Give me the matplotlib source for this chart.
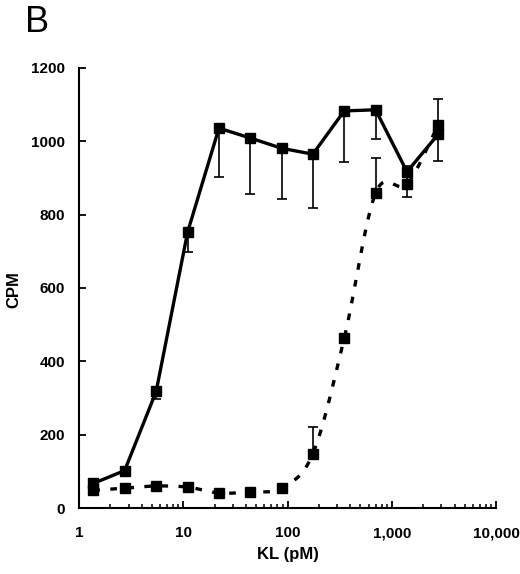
import numpy as np
import matplotlib
matplotlib.use("Agg")
import matplotlib.pyplot as plt
from matplotlib.ticker import FixedLocator, LogLocator, NullFormatter

# ---- data ----
kl = [1.37, 2.74, 5.5, 11, 22, 44, 88, 175, 350, 700, 1400, 2800]
solid_cpm = [67, 102, 318, 752, 1036, 1009, 981, 965, 1083, 1086, 917, 1020]
solid_err_low = [8, 14, 20, 54, 134, 153, 138, 148, 139, 80, 69, 74]
dash_cpm = [48, 54, 60, 57, 41, 44, 55, 148, 463, 859, 884, 1045]
dash_err_up = [0, 0, 0, 0, 0, 0, 0, 73, 0, 95, 49, 70]

x_ticks = [1, 10, 100, 1000, 10000]
x_ticklabels = ["1", "10", "100", "1,000", "10,000"]
y_ticks = [0, 200, 400, 600, 800, 1000, 1200]

plt.rcParams['font.family'] = ['Liberation Sans', 'DejaVu Sans']
plt.rcParams['lines.scale_dashes'] = False

fig = plt.figure(figsize=(5.2, 5.74), dpi=100)
ax = fig.add_axes([79/520, 1-508/574, (496-79)/520, 440/574])

ax.set_xscale('log')
ax.set_xlim(1, 10000)
ax.set_ylim(0, 1200)


def smooth(xs, ys, n=30):
    # Catmull-Rom spline in log-x / y display-like space (Excel style smoothing)
    u = np.log10(np.asarray(xs, float)) * 104.0
    v = np.asarray(ys, float) * 0.3667
    P = np.column_stack([u, v])
    P = np.vstack([P[0] - (P[1] - P[0]), P, P[-1] + (P[-1] - P[-2])])
    out = []
    t = np.linspace(0, 1, n, endpoint=False)[:, None]
    for i in range(1, len(P) - 2):
        p0, p1, p2, p3 = P[i - 1], P[i], P[i + 1], P[i + 2]
        seg = 0.5 * ((2 * p1) + (-p0 + p2) * t + (2 * p0 - 5 * p1 + 4 * p2 - p3) * t ** 2
                     + (-p0 + 3 * p1 - 3 * p2 + p3) * t ** 3)
        out.append(seg)
    out.append(P[-2][None, :])
    out = np.vstack(out)
    return 10 ** (out[:, 0] / 104.0), out[:, 1] / 0.3667


# dashed series
sx, sy = smooth(kl, dash_cpm)
ax.plot(sx, sy, color='black', lw=2.4, linestyle=(0, (4.8, 7.5)), dash_capstyle='butt', zorder=3)
ax.errorbar(kl, dash_cpm, yerr=[np.zeros(len(kl)), dash_err_up], fmt='none', ecolor='black',
            elinewidth=1.2, capsize=3.5, capthick=1.2, zorder=2)
ax.plot(kl, dash_cpm, linestyle='none', marker='s', ms=6.8, color='black', zorder=4)

# solid series
ax.errorbar(kl, solid_cpm, yerr=[solid_err_low, np.zeros(len(kl))], fmt='none', ecolor='black',
            elinewidth=1.2, capsize=3.5, capthick=1.2, zorder=2)
ax.plot(kl, solid_cpm, color='black', lw=2.4, marker='s', ms=6.8, zorder=5)

for s in ['top', 'right']:
    ax.spines[s].set_visible(False)
for s in ['left', 'bottom']:
    ax.spines[s].set_linewidth(1.5)

ax.xaxis.set_major_locator(FixedLocator(x_ticks))
ax.set_xticklabels(x_ticklabels)
ax.xaxis.set_minor_locator(LogLocator(base=10, subs=np.arange(2, 10)))
ax.xaxis.set_minor_formatter(NullFormatter())
ax.set_yticks(y_ticks)
ax.set_yticklabels([str(v) for v in y_ticks])

ax.tick_params(axis='x', which='major', direction='in', length=5, width=1.3, pad=13,
               labelsize=11)
ax.tick_params(axis='x', which='minor', direction='in', length=3, width=1.1)
ax.tick_params(axis='y', which='major', direction='in', length=5, width=1.3, pad=10,
               labelsize=11)
for lab in ax.get_xticklabels() + ax.get_yticklabels():
    lab.set_fontweight('bold')

fig.text(288/520, 1-555/574, "KL (pM)", ha='center', va='center', fontsize=12, fontweight='bold')
fig.text(14/520, 1-290/574, "CPM", ha='center', va='center', rotation=90, fontsize=12,
         fontweight='bold')
fig.text(25/520, 1-32/574, "B", ha='left', va='baseline', fontsize=26)

fig.savefig("out.png", dpi=100)
